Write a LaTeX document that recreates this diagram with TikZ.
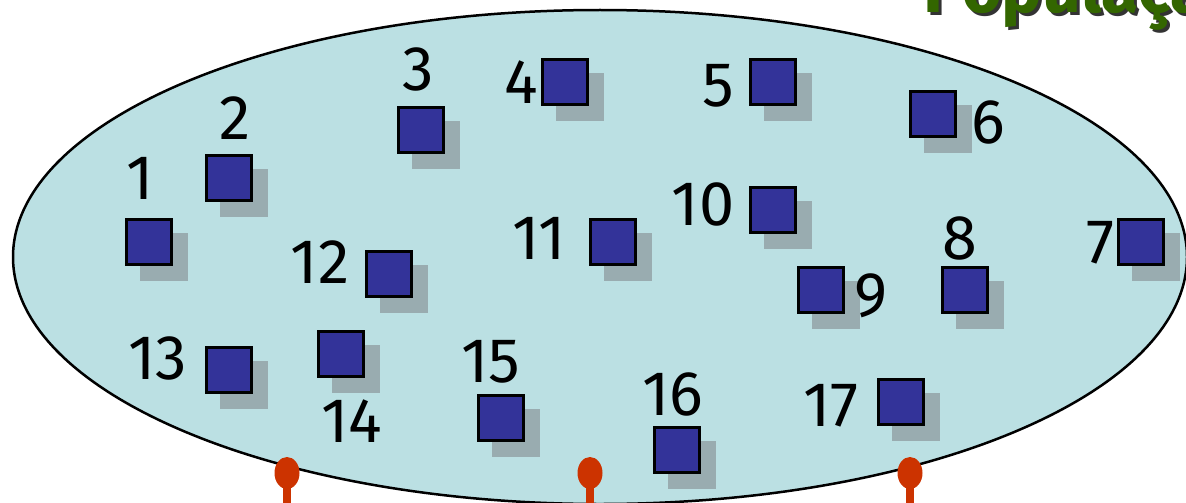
\documentclass[tikz,border=0pt]{standalone}
\usepackage{fontspec}
\setmainfont{Fira Sans}
\usetikzlibrary{shapes.geometric,shadows}
\definecolor{popfill}{HTML}{BBE0E3}
\definecolor{sqblue}{HTML}{333399}
\definecolor{sqshadow}{HTML}{99ACB0}
\definecolor{pinred}{HTML}{CC3300}
\definecolor{titlegreen}{HTML}{336600}
\tikzset{
  sq/.style={draw=black, line width=3pt, fill=sqblue, minimum size=45pt, inner sep=0pt,
    general shadow={fill=sqshadow, draw=sqshadow, line width=3pt, shadow xshift=15pt, shadow yshift=-15pt}},
  lbl/.style={inner sep=0pt, font=\fontsize{63}{63}\selectfont},
  pinhead/.style={ellipse, fill=pinred, minimum width=25pt, minimum height=32pt, inner sep=0pt},
  stem/.style={draw=pinred, line width=8.5pt},
  popl/.style={ellipse, draw=black, line width=2.5pt, fill=popfill, minimum width=1174pt, minimum height=494pt, inner sep=0pt}
}
\begin{document}
\begin{tikzpicture}[x=1pt,y=-1pt]
\useasboundingbox (0,0) rectangle (1186,503);
% title (cut by top edge)
\node[anchor=base west, inner sep=0pt, text=black!80, font=\fontsize{68}{68}\selectfont\bfseries] (titleshadow) at (926,16) {População};
\node[anchor=base west, inner sep=0pt, text=titlegreen, font=\fontsize{68}{68}\selectfont\bfseries] (title) at (923,13) {População};
% population ellipse
\node[popl] (pop) at (600,257) {};
% individuals
\node[sq] (s1) at (149,242) {};
\node[sq] (s2) at (229,178) {};
\node[sq] (s3) at (421,130) {};
\node[sq] (s4) at (565,82) {};
\node[sq] (s5) at (773,82) {};
\node[sq] (s6) at (933,114) {};
\node[sq] (s7) at (1141,242) {};
\node[sq] (s8) at (965,290) {};
\node[sq] (s9) at (821,290) {};
\node[sq] (s10) at (773,210) {};
\node[sq] (s11) at (613,242) {};
\node[sq] (s12) at (389,274) {};
\node[sq] (s13) at (229,370) {};
\node[sq] (s14) at (341,354) {};
\node[sq] (s15) at (501,418) {};
\node[sq] (s16) at (677,450) {};
\node[sq] (s17) at (901,402) {};
% labels
\node[lbl] (l1) at (140,178) {1};
\node[lbl] (l2) at (235,118) {2};
\node[lbl] (l3) at (418,69) {3};
\node[lbl] (l4) at (521,82) {4};
\node[lbl] (l5) at (718,86) {5};
\node[lbl] (l6) at (988,122) {6};
\node[lbl] (l7) at (1100,243) {7};
\node[lbl] (l8) at (960,238) {8};
\node[lbl] (l9) at (871,296) {9};
\node[lbl] (l10) at (703,204) {10};
\node[lbl] (l11) at (539,238) {11};
\node[lbl] (l12) at (320,262) {12};
\node[lbl] (l13) at (158,358) {13};
\node[lbl] (l14) at (352,421) {14};
\node[lbl] (l15) at (491,362) {15};
\node[lbl] (l16) at (673,394) {16};
\node[lbl] (l17) at (831,406) {17};
% pins
\coordinate (b1) at (287,510);
\coordinate (b2) at (590,510);
\coordinate (b3) at (910,510);
\node[pinhead] (p1) at (287,473) {};
\node[pinhead] (p2) at (590,473) {};
\node[pinhead] (p3) at (910,473) {};
\draw[stem] (p1.center) -- (b1);
\draw[stem] (p2.center) -- (b2);
\draw[stem] (p3.center) -- (b3);
\end{tikzpicture}
\end{document}
